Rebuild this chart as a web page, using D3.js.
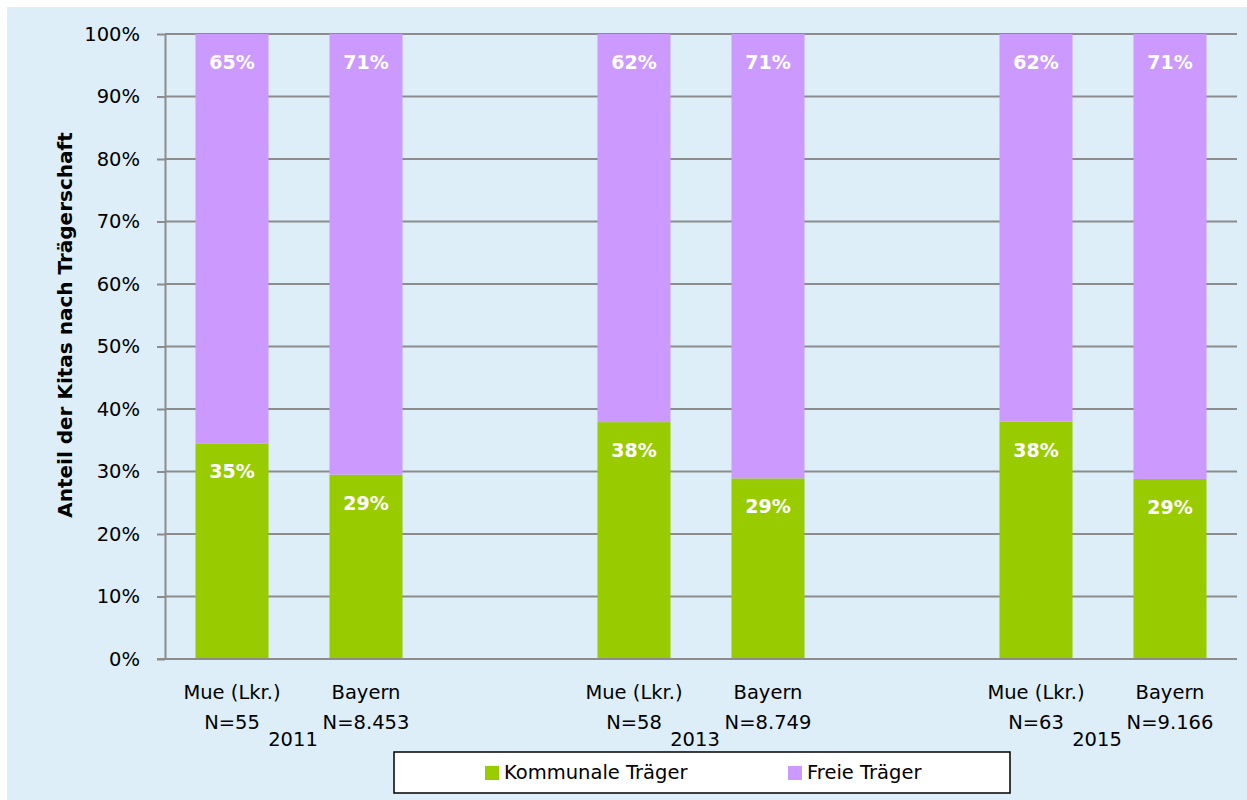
<!DOCTYPE html>
<html>
<head>
<meta charset="utf-8">
<script src="https://cdn.jsdelivr.net/npm/d3@7"></script>
<style>
  html, body { margin: 0; padding: 0; background: #ffffff; }
  svg { display: block; }
  text { font-family: "DejaVu Sans", "Open Sans", sans-serif; }
</style>
</head>
<body>
<svg id="chart" width="1247" height="800"></svg>
<script>
// ---- data ----
const years = ["2011", "2013", "2015"];
const regions = ["Mue (Lkr.)", "Bayern"];
const nLabels = ["N=55", "N=8.453", "N=58", "N=8.749", "N=63", "N=9.166"];
const kommunale = [34.5, 29.5, 37.9, 28.9, 38.0, 28.8];
const freie = [65.5, 70.5, 62.1, 71.1, 62.0, 71.2];
const kommunaleLabels = ["35%", "29%", "38%", "29%", "38%", "29%"];
const freieLabels = ["65%", "71%", "62%", "71%", "62%", "71%"];
const yTicks = [0, 10, 20, 30, 40, 50, 60, 70, 80, 90, 100];
const seriesNames = ["Kommunale Träger", "Freie Träger"];
const seriesColors = ["#99CC00", "#CC99FF"];
const yTitle = "Anteil der Kitas nach Trägerschaft";

// ---- layout ----
const W = 1247, H = 800;
const plot = { left: 165, right: 1237, top: 34, bottom: 659 };
const FS = 19.5;
const svg = d3.select("#chart");

svg.append("rect").attr("x", 7).attr("y", 7).attr("width", W - 7).attr("height", H - 7)
  .attr("fill", "#DDEEF8");

// slots: bars + blank gap slots between year groups
const slots = [];
const bars = [];
years.forEach((yr, gi) => {
  regions.forEach((rg, ri) => {
    const idx = gi * regions.length + ri;
    const key = yr + "|" + ri;
    slots.push(key);
    bars.push({ key, year: yr, region: rg, n: nLabels[idx],
      k: kommunale[idx], f: freie[idx], kl: kommunaleLabels[idx], fl: freieLabels[idx] });
  });
  if (gi < years.length - 1) slots.push("gap" + gi);
});

const pad = 0.455;
const x = d3.scaleBand().domain(slots).range([plot.left, plot.right])
  .paddingInner(pad).paddingOuter(pad / 2);
const y = d3.scaleLinear().domain([0, 100]).range([plot.bottom, plot.top]);

// gridlines
svg.append("g").selectAll("line").data(yTicks.filter(d => d > 0)).join("line")
  .attr("x1", plot.left).attr("x2", plot.right)
  .attr("y1", d => y(d)).attr("y2", d => y(d))
  .attr("stroke", "#8C8C8C").attr("stroke-width", 2);

// bars
const g = svg.append("g");
g.selectAll("rect.k").data(bars).join("rect").attr("class", "k")
  .attr("x", d => x(d.key)).attr("width", x.bandwidth())
  .attr("y", d => y(d.k)).attr("height", d => y(0) - y(d.k))
  .attr("fill", seriesColors[0]);
g.selectAll("rect.f").data(bars).join("rect").attr("class", "f")
  .attr("x", d => x(d.key)).attr("width", x.bandwidth())
  .attr("y", d => y(d.k + d.f)).attr("height", d => y(d.k) - y(d.k + d.f))
  .attr("fill", seriesColors[1]);

// value labels
g.selectAll("text.kl").data(bars).join("text").attr("class", "kl")
  .attr("x", d => x(d.key) + x.bandwidth() / 2).attr("y", d => y(d.k) + 35)
  .attr("text-anchor", "middle").attr("fill", "#fff")
  .attr("font-weight", "bold").attr("font-size", 19).text(d => d.kl);
g.selectAll("text.fl").data(bars).join("text").attr("class", "fl")
  .attr("x", d => x(d.key) + x.bandwidth() / 2).attr("y", d => y(d.k + d.f) + 35)
  .attr("text-anchor", "middle").attr("fill", "#fff")
  .attr("font-weight", "bold").attr("font-size", 19).text(d => d.fl);

// y axis
const yAxis = d3.axisLeft(y).tickValues(yTicks).tickFormat(d => d + "%")
  .tickSizeInner(8).tickSizeOuter(0).tickPadding(17);
const ya = svg.append("g").attr("transform", `translate(${plot.left},0)`).call(yAxis);
ya.select(".domain").attr("stroke", "#8C8C8C").attr("stroke-width", 2);
ya.selectAll(".tick line").attr("stroke", "#8C8C8C").attr("stroke-width", 2);
ya.selectAll(".tick text").attr("font-size", FS).attr("fill", "#000")
  .attr("font-family", "'DejaVu Sans', sans-serif");

// x axis baseline
svg.append("line").attr("x1", plot.left - 8).attr("x2", plot.right)
  .attr("y1", y(0)).attr("y2", y(0)).attr("stroke", "#8C8C8C").attr("stroke-width", 2);

// x category labels
const xl = svg.append("g");
xl.selectAll("text.r").data(bars).join("text").attr("class", "r")
  .attr("x", d => x(d.key) + x.bandwidth() / 2).attr("y", 699)
  .attr("text-anchor", "middle").attr("font-size", FS).attr("fill", "#000").text(d => d.region);
xl.selectAll("text.n").data(bars).join("text").attr("class", "n")
  .attr("x", d => x(d.key) + x.bandwidth() / 2).attr("y", 729)
  .attr("text-anchor", "middle").attr("font-size", FS).attr("fill", "#000").text(d => d.n);
xl.selectAll("text.yr").data(years).join("text").attr("class", "yr")
  .attr("x", yr => {
    const a = x(yr + "|0"), b = x(yr + "|" + (regions.length - 1)) + x.bandwidth();
    return (a + b) / 2 - 6;
  })
  .attr("y", 746).attr("text-anchor", "middle").attr("font-size", FS).attr("fill", "#000")
  .text(yr => yr);

// y title
svg.append("text").attr("transform", `translate(72,325) rotate(-90)`)
  .attr("text-anchor", "middle").attr("font-weight", "bold").attr("font-size", 20)
  .attr("fill", "#000").text(yTitle);

// legend
const lg = svg.append("g");
lg.append("rect").attr("x", 394).attr("y", 752).attr("width", 616).attr("height", 41)
  .attr("fill", "#fff").attr("stroke", "#000").attr("stroke-width", 1.5);
const legendX = [485, 788];
seriesNames.forEach((s, i) => {
  lg.append("rect").attr("x", legendX[i]).attr("y", 766).attr("width", 14).attr("height", 14)
    .attr("fill", seriesColors[i]);
  lg.append("text").attr("x", legendX[i] + 19).attr("y", 779).attr("font-size", FS)
    .attr("fill", "#000").text(s);
});
</script>
</body>
</html>
